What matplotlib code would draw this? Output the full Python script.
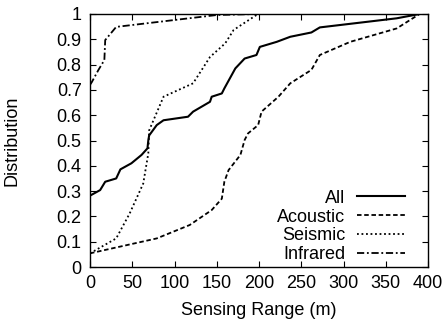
import matplotlib
matplotlib.use("Agg")
import matplotlib.pyplot as plt

plt.rcParams['font.family'] = ['Liberation Sans', 'DejaVu Sans']

all_x = [0, 12, 18, 31, 36, 49, 61, 68, 69, 70, 79, 87, 116, 122, 142, 144, 156, 159, 172, 183, 197, 201, 221, 237, 262, 272, 363, 390]
all_y = [0.282, 0.304, 0.337, 0.35, 0.386, 0.41, 0.443, 0.469, 0.50, 0.52, 0.561, 0.58, 0.594, 0.614, 0.653, 0.673, 0.686, 0.706, 0.785, 0.824, 0.838, 0.87, 0.89, 0.91, 0.927, 0.947, 0.983, 1.0]

acoustic_x = [0, 79, 118, 144, 156, 159, 164, 178, 183, 187, 199, 203, 223, 237, 262, 272, 308, 363, 390]
acoustic_y = [0.054, 0.113, 0.166, 0.225, 0.27, 0.337, 0.383, 0.443, 0.502, 0.528, 0.561, 0.614, 0.673, 0.726, 0.779, 0.838, 0.89, 0.943, 1.0]

seismic_x = [0, 31, 47, 63, 69, 70, 87, 122, 142, 160, 170, 197, 199]
seismic_y = [0.054, 0.113, 0.212, 0.33, 0.449, 0.54, 0.673, 0.726, 0.83, 0.884, 0.937, 0.996, 1.0]

infrared_x = [0, 2, 10, 17, 18, 31, 150, 198]
infrared_y = [0.72, 0.73, 0.779, 0.818, 0.897, 0.949, 0.996, 1.0]

x_ticks = [0, 50, 100, 150, 200, 250, 300, 350, 400]
y_ticks = [0, 0.1, 0.2, 0.3, 0.4, 0.5, 0.6, 0.7, 0.8, 0.9, 1]
y_tick_labels = ['0', '0.1', '0.2', '0.3', '0.4', '0.5', '0.6', '0.7', '0.8', '0.9', '1']

fig = plt.figure(figsize=(4.48, 3.29), dpi=100)
ax = fig.add_axes([90/448, (329-267)/329, 338/448, 253/329])

ax.plot(all_x, all_y, color='black', lw=1.5, ls='-', label='All')
ax.plot(acoustic_x, acoustic_y, color='black', lw=1.3, ls=(0, (2.5, 1.5)), label='Acoustic')
ax.plot(seismic_x, seismic_y, color='black', lw=1.3, ls=(0, (1, 1.5)), label='Seismic')
ax.plot(infrared_x, infrared_y, color='black', lw=1.3, ls=(0, (4, 1.5, 1, 1.5)), label='Infrared')

ax.set_xlim(0, 400)
ax.set_ylim(0, 1)
ax.set_xticks(x_ticks)
ax.set_yticks(y_ticks)
ax.set_yticklabels(y_tick_labels)
ax.tick_params(direction='in', top=True, right=True, length=4, width=0.8, labelsize=13, pad=6)
for s in ax.spines.values():
    s.set_linewidth(1.0)

ax.set_xlabel('Sensing Range (m)', fontsize=13, labelpad=7)
ax.set_ylabel('Distribution', fontsize=13, labelpad=26)

leg = ax.legend(loc='lower right', markerfirst=False, frameon=False, fontsize=13,
                handlelength=2.65, handletextpad=0.65, labelspacing=0.1,
                borderpad=0, borderaxespad=0, bbox_to_anchor=(0.932, 0.015))
for col in leg._legend_handle_box.get_children():
    col.align = 'right'

fig.savefig('out.png', dpi=100)
